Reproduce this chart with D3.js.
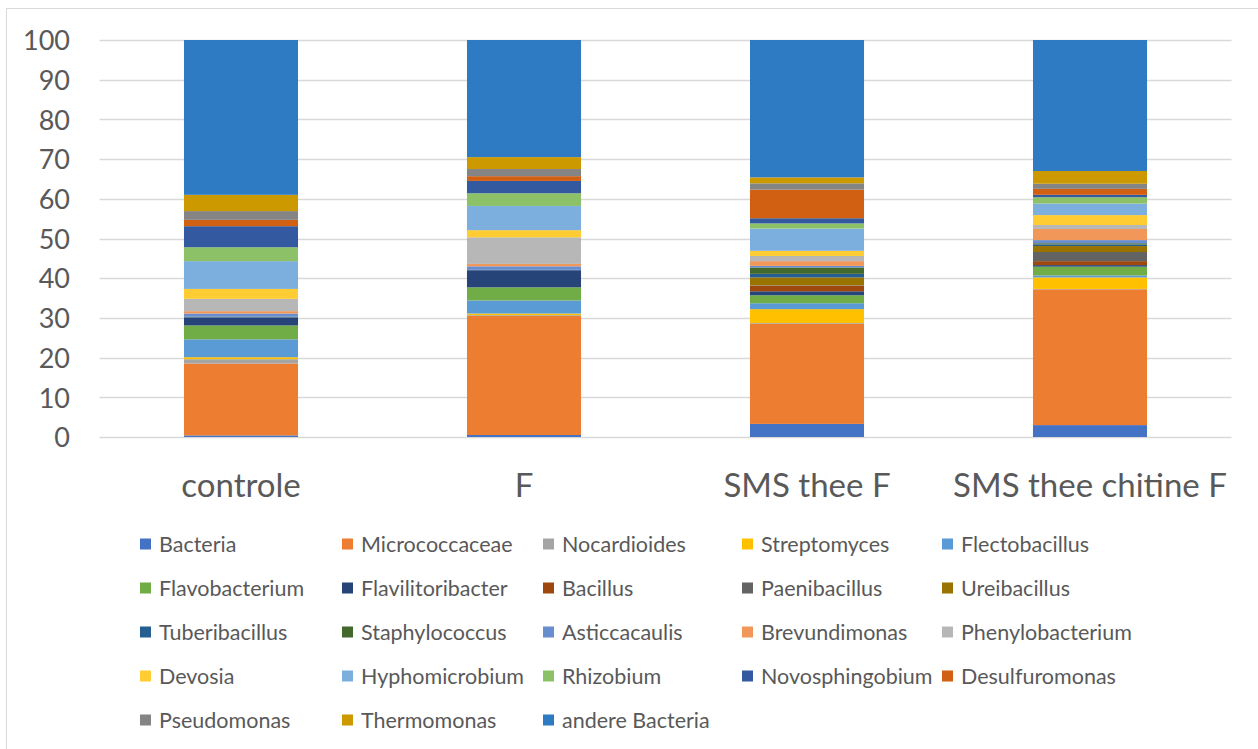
<!DOCTYPE html>
<html>
<head>
<meta charset="utf-8">
<script src="https://cdn.jsdelivr.net/npm/d3@7"></script>
<style>
  html, body { margin: 0; padding: 0; background: #fff; }
  svg { display: block; }
  text { font-family: Lato, "Open Sans", sans-serif; fill: #595959; }
</style>
</head>
<body>
<svg id="chart" width="1258" height="749"></svg>
<script>
// Sample groups on the x axis
const categories = ["controle", "F", "SMS thee F", "SMS thee chitine F"];

// Taxa, stacked from bottom to top
const taxa = [
  "Bacteria", "Micrococcaceae", "Nocardioides", "Streptomyces", "Flectobacillus",
  "Flavobacterium", "Flavilitoribacter", "Bacillus", "Paenibacillus", "Ureibacillus",
  "Tuberibacillus", "Staphylococcus", "Asticcacaulis", "Brevundimonas", "Phenylobacterium",
  "Devosia", "Hyphomicrobium", "Rhizobium", "Novosphingobium", "Desulfuromonas",
  "Pseudomonas", "Thermomonas", "andere Bacteria"
];

// Relative abundance (%) per taxon, in the order of the categories
const Bacteria          = [0.4, 0.5, 3.3, 3.0];
const Micrococcaceae    = [18.1, 30.0, 25.2, 34.2];
const Nocardioides      = [1.1, 0.2, 0.2, 0.1];
const Streptomyces      = [0.5, 0.4, 3.5, 2.9];
const Flectobacillus    = [4.5, 3.3, 1.5, 0.5];
const Flavobacterium    = [3.5, 3.3, 2.0, 2.2];
const Flavilitoribacter = [2.0, 4.3, 1.0, 0.4];
const Bacillus          = [0.0, 0.0, 1.4, 1.0];
const Paenibacillus     = [0.0, 0.0, 0.1, 2.3];
const Ureibacillus      = [0.0, 0.0, 2.0, 1.5];
const Tuberibacillus    = [0.1, 0.1, 0.9, 0.4];
const Staphylococcus    = [0.1, 0.0, 1.6, 0.3];
const Asticcacaulis     = [0.8, 0.9, 0.4, 0.8];
const Brevundimonas     = [0.6, 0.6, 1.2, 2.8];
const Phenylobacterium  = [3.1, 6.7, 1.3, 1.0];
const Devosia           = [2.5, 1.8, 1.3, 2.5];
const Hyphomicrobium    = [7.0, 6.1, 5.6, 2.9];
const Rhizobium         = [3.5, 3.2, 1.3, 1.6];
const Novosphingobium   = [5.3, 3.1, 1.3, 0.6];
const Desulfuromonas    = [1.6, 1.2, 7.2, 1.5];
const Pseudomonas       = [2.2, 1.8, 1.6, 1.3];
const Thermomonas       = [4.1, 3.0, 1.5, 3.2];
const andereBacteria    = [39.0, 29.5, 34.6, 33.0];

const seriesValues = [
  Bacteria, Micrococcaceae, Nocardioides, Streptomyces, Flectobacillus,
  Flavobacterium, Flavilitoribacter, Bacillus, Paenibacillus, Ureibacillus,
  Tuberibacillus, Staphylococcus, Asticcacaulis, Brevundimonas, Phenylobacterium,
  Devosia, Hyphomicrobium, Rhizobium, Novosphingobium, Desulfuromonas,
  Pseudomonas, Thermomonas, andereBacteria
];

const yTicks = [0, 10, 20, 30, 40, 50, 60, 70, 80, 90, 100];

const colors = [
  "#4472C4", "#ED7D31", "#A5A5A5", "#FFC000", "#5B9BD5",
  "#70AD47", "#264478", "#9E480E", "#636363", "#997300",
  "#255E91", "#43682B", "#698ED0", "#F1975A", "#B7B7B7",
  "#FFCD33", "#7CAFDD", "#8CC168", "#335AA1", "#D26012",
  "#848484", "#CC9A00", "#2E7BC4"
];

// Build a row per category for d3.stack
const rows = categories.map((c, i) => {
  const r = { category: c };
  taxa.forEach((t, j) => { r[t] = seriesValues[j][i]; });
  return r;
});

const svg = d3.select("#chart");

// Outer chart frame
svg.append("rect")
  .attr("x", 6.5).attr("y", 8.5)
  .attr("width", 1270).attr("height", 780)
  .attr("fill", "none").attr("stroke", "#D9D9D9").attr("stroke-width", 1);

const x = d3.scaleBand()
  .domain(categories)
  .range([99.5, 1231.5])
  .paddingInner(0.597)
  .paddingOuter(0.2985);

const y = d3.scaleLinear().domain([0, 100]).range([437, 40]);

// Horizontal gridlines
svg.append("g")
  .selectAll("line")
  .data(yTicks)
  .join("line")
  .attr("x1", 99.5).attr("x2", 1231.5)
  .attr("y1", d => Math.round(y(d)) + 0.5)
  .attr("y2", d => Math.round(y(d)) + 0.5)
  .attr("stroke", "#D9D9D9").attr("stroke-width", 1.3);

// Stacked bars
const stack = d3.stack().keys(taxa);
const layers = stack(rows);

svg.append("g")
  .selectAll("g")
  .data(layers)
  .join("g")
  .attr("fill", (d, i) => colors[i])
  .selectAll("rect")
  .data(d => d)
  .join("rect")
  .attr("x", d => x(d.data.category))
  .attr("width", x.bandwidth())
  .attr("y", d => y(d[1]))
  .attr("height", d => Math.max(0, y(d[0]) - y(d[1])));

// Y axis labels
const yAxis = d3.axisLeft(y).tickValues(yTicks).tickSize(0).tickPadding(0);
const gy = svg.append("g").attr("transform", "translate(70,0)").call(yAxis);
gy.select(".domain").remove();
gy.selectAll("text")
  .attr("font-size", 27)
  .attr("font-family", "Lato, sans-serif")
  .attr("fill", "#595959")
  .attr("dy", "0.36em");

// Category labels
const xAxis = d3.axisBottom(x).tickSize(0).tickPadding(0);
const gx = svg.append("g").attr("transform", "translate(0,485)").call(xAxis);
gx.select(".domain").remove();
gx.selectAll("text")
  .attr("font-size", 33)
  .attr("font-family", "Lato, sans-serif")
  .attr("fill", "#595959")
  .attr("dy", "0.36em");

// Legend: five columns, five rows
const colX = [140, 342, 543, 742, 942];
const rowY = [544, 588, 632, 676, 720];
const legend = svg.append("g")
  .selectAll("g")
  .data(taxa)
  .join("g")
  .attr("transform", (d, i) => `translate(${colX[i % 5]},${rowY[Math.floor(i / 5)]})`);

legend.append("rect")
  .attr("x", 0).attr("y", -5.5)
  .attr("width", 11).attr("height", 11)
  .attr("fill", (d, i) => colors[i]);

legend.append("text")
  .attr("x", 19).attr("y", 0)
  .attr("dy", "0.36em")
  .attr("font-size", 21.5)
  .text(d => d);
</script>
</body>
</html>
